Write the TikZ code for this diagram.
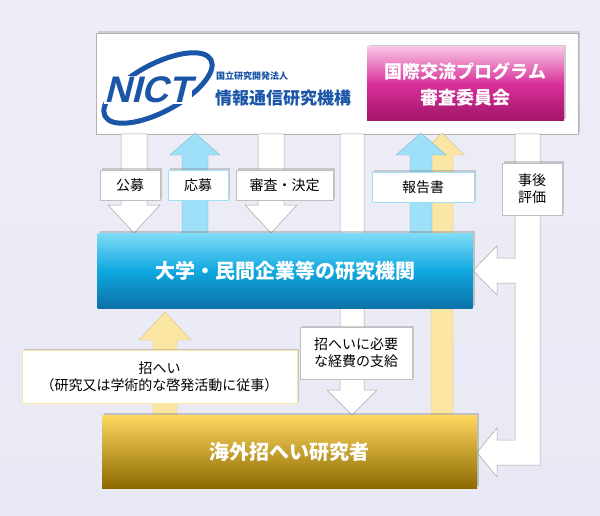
\documentclass[tikz,border=0pt]{standalone}
\usepackage{fontspec}
\setmainfont{Noto Sans CJK JP}
\newfontfamily\logo[FakeSlant=0.25]{Liberation Sans}
\usetikzlibrary{shadows}
\definecolor{bg}{HTML}{E9E9F5}
\definecolor{nblue}{HTML}{1A55A8}
\definecolor{ylw}{HTML}{FCE6A4}
\definecolor{lblue}{HTML}{9EE0F8}
\definecolor{ytop}{HTML}{FFD860}
\definecolor{ymid}{HTML}{FFC000}
\definecolor{ybot}{HTML}{8C6A00}
\definecolor{btop}{HTML}{80DCF8}
\definecolor{bmid}{HTML}{10A8E0}
\definecolor{bbot}{HTML}{0A72A8}
\definecolor{ptop}{HTML}{F8C4E4}
\definecolor{pmid}{HTML}{D8309A}
\definecolor{pbot}{HTML}{A01468}
\newcommand\farrow[7]{\path[#7] (#1-#2,#6)--(#1-#2,#5)--(#1-#3,#5)--(#1,#4)--(#1+#3,#5)--(#1+#2,#5)--(#1+#2,#6)--cycle;}
\tikzset{
  warr/.style={fill=white,draw=black!35,line width=0.5pt},
  barr/.style={fill=lblue,draw=lblue!80!black,line width=0.4pt},
  yarr/.style={fill=ylw,draw=ylw!85!black,line width=0.4pt},
  lbl/.style={draw=black!25,fill=white,drop shadow={opacity=0.35,shadow xshift=1.5pt,shadow yshift=1.5pt},font=\fontsize{14}{17}\selectfont,inner sep=0pt,align=center},
  bigbox/.style={drop shadow={opacity=0.4,shadow xshift=2pt,shadow yshift=2pt},inner sep=0pt,align=center,text=white}
}
\begin{document}
\begin{tikzpicture}[x=1pt,y=-1pt]
\shade[top color=bg!80!white,bottom color=bg] (0,0) rectangle (600,516);
\useasboundingbox (0,0) rectangle (600,516);
% NICT frame
\node[draw=black!30,fill=white,drop shadow={opacity=0.3,shadow xshift=2pt,shadow yshift=2pt},minimum width=482pt,minimum height=101pt,inner sep=0pt] (nict) at (337,83.5) {};
% arrows
\farrow{134}{13}{26}{233}{205}{134}{warr}
\farrow{271}{13}{26}{233}{205}{134}{warr}
\farrow{352}{12}{25}{415}{390}{134}{warr}
\farrow{442}{11}{22}{133}{155}{415}{yarr}
\farrow{421}{11}{25}{133}{155}{233}{barr}
\farrow{195}{13}{25}{133}{155}{233}{barr}
\farrow{165}{12}{26}{312}{340}{415}{yarr}
% right loop
\path[warr] (515,134)--(540,134)--(540,465)--(497,465)--(497,477)--(477,452.5)--(497,428)--(497,440)--(515,440)--(515,283)--(497,283)--(497,295)--(473,270.5)--(497,246)--(497,258)--(515,258)--cycle;
% logo
\draw[nblue,line width=5pt,rotate around={28:(158,88)}] (158,88) ellipse (60pt and 24pt);
\node[font=\logo\bfseries\fontsize{37}{37}\selectfont,text=nblue,fill=white,inner sep=1pt] (logo) at (148,90) {NICT};
\node[anchor=west,text=nblue,font=\bfseries\fontsize{9}{9}\selectfont,inner sep=0pt] (nsub) at (216,76) {国立研究開発法人};
\node[anchor=west,text=nblue,font=\bfseries\fontsize{17}{17}\selectfont,inner sep=0pt] (nname) at (215,98) {情報通信研究機構};
% pink box
\node[bigbox,minimum width=197pt,minimum height=74pt,top color=ptop,bottom color=pbot,middle color=pmid,font=\bfseries\fontsize{18}{26}\selectfont] (pink) at (465.5,84) {国際交流プログラム\\審査委員会};
% blue box
\node[bigbox,minimum width=375pt,minimum height=75pt,top color=btop,bottom color=bbot,middle color=bmid,font=\bfseries\fontsize{20}{20}\selectfont] (univ) at (285,270.5) {大学・民間企業等の研究機関};
% yellow box
\node[bigbox,minimum width=375pt,minimum height=73pt,top color=ytop,middle color=ymid,bottom color=ybot,font=\bfseries\fontsize{20}{20}\selectfont] (res) at (289.5,451.5) {海外招へい研究者};
% labels
\node[lbl,minimum width=60pt,minimum height=30pt] (l1) at (130,185) {公募};
\node[lbl,draw=lblue,minimum width=60pt,minimum height=30pt] (l2) at (198,185) {応募};
\node[lbl,minimum width=97pt,minimum height=30pt] (l3) at (284.5,185) {審査・決定};
\node[lbl,draw=lblue,minimum width=102pt,minimum height=30pt] (l4) at (423,187) {報告書};
\node[lbl,minimum width=60pt,minimum height=52pt] (l5) at (532,189) {事後\\評価};
\node[lbl,minimum width=112pt,minimum height=52pt] (l6) at (356,353) {招へいに必要\\な経費の支給};
\node[lbl,draw=ylw,minimum width=275pt,minimum height=53pt] (l7) at (159.5,376.5) {招へい\\（研究又は学術的な啓発活動に従事）};
\end{tikzpicture}
\end{document}
